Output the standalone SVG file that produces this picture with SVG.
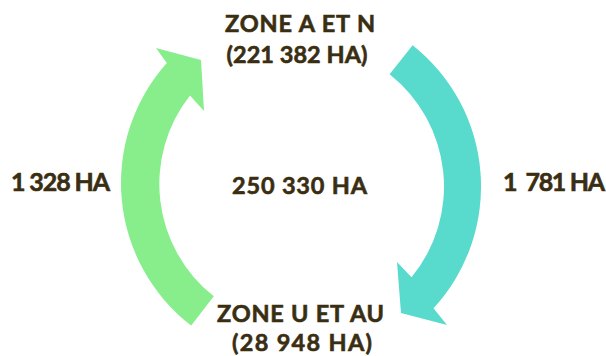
<svg xmlns="http://www.w3.org/2000/svg" width="606" height="356" viewBox="0 0 606 356">
  <style>
    .lbl { font-family: "Lato", "Liberation Sans", sans-serif; font-weight: 700; fill: #3a2e12; stroke: #3a2e12; stroke-width: 0.6; }
    .zone { font-size: 23.5px; text-anchor: middle; }
    .side { font-size: 25px; }
    .mid { font-size: 23.5px; text-anchor: middle; }
  </style>
  <rect width="606" height="356" fill="#ffffff"/>

  <!-- curved flow arrows -->
  <g id="connectors">
    <!-- left arrow: U/AU zone up to A/N zone -->
    <path id="flow-up" fill="#88ed8b"
          d="M 191.2,325.6 A 180 180 0 0 1 166.8,63 L 156,48 L 201,60 L 204,111 L 190,95.5 A 143 143 0 0 0 213.8,296.3 Z"/>
    <!-- right arrow: A/N zone down to U/AU zone -->
    <path id="flow-down" fill="#58dacc"
          d="M 412.6,45.2 A 180 180 0 0 1 433.5,308.3 L 447,325 L 401,313 L 397,262 L 411.5,277.3 A 143 143 0 0 0 389.6,74.3 Z"/>
  </g>

  <g id="zone-an">
    <text class="lbl zone" x="300" y="32" textLength="150" lengthAdjust="spacing">ZONE A ET N</text>
    <text class="lbl zone" x="297" y="63" textLength="141" lengthAdjust="spacing">(221 382 HA)</text>
  </g>

  <g id="zone-uau">
    <text class="lbl zone" x="300.5" y="322" textLength="167" lengthAdjust="spacing">ZONE U ET AU</text>
    <text class="lbl zone" x="302" y="351" textLength="140" lengthAdjust="spacing">(28 948 HA)</text>
  </g>

  <g id="total">
    <text class="lbl mid" x="299.5" y="194" textLength="135" lengthAdjust="spacing">250 330 HA</text>
  </g>

  <g id="flow-up-label">
    <text class="lbl side" x="11" y="191" textLength="99" lengthAdjust="spacing">1 328 HA</text>
  </g>

  <g id="flow-down-label">
    <text class="lbl side" x="503" y="191" textLength="102" lengthAdjust="spacing" xml:space="preserve">1  781 HA</text>
  </g>
</svg>
